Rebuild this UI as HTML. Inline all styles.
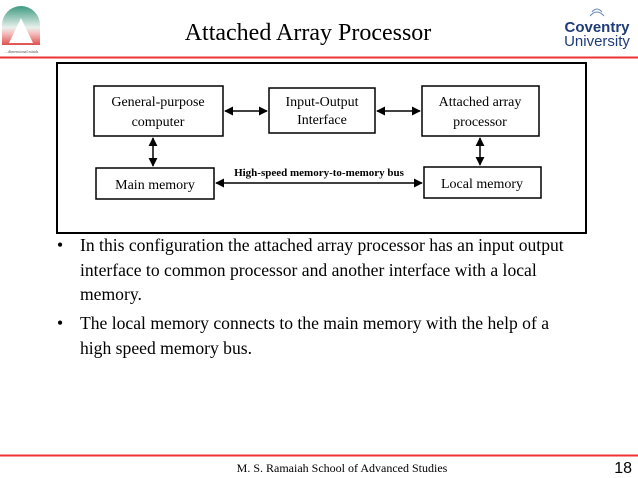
<!DOCTYPE html>
<html><head><style>
body{margin:0;width:638px;height:478px;background:#fff;position:relative;overflow:hidden;font-family:"Liberation Serif",serif;}
.a{position:absolute}
.t{position:absolute;font-size:17.6px;line-height:24.5px;color:#000}
</style></head><body>
<svg class="a" style="left:0;top:0" width="638" height="478">
<defs><linearGradient id="g" x1="0" y1="0" x2="0" y2="1"><stop offset="0" stop-color="#3d9a80"/><stop offset="0.55" stop-color="#e8f0ec"/><stop offset="0.7" stop-color="#f4c0c0"/><stop offset="1" stop-color="#e05050"/></linearGradient>
<marker id="m" viewBox="0 0 10 10" refX="9" refY="5" markerWidth="6" markerHeight="6" orient="auto-start-reverse"><path d="M0,0L10,5L0,10z" fill="#000"/></marker></defs>
<path d="M2,45 L2,25 A19,19 0 0 1 40,25 L40,45 Z" fill="url(#g)"/>
<path d="M21,18 L9,43 L33,43 Z" fill="#fff"/>
<text x="5" y="53" font-size="4" fill="#555">...dimensional minds</text>
<line x1="0" y1="57.5" x2="638" y2="57.5" stroke="#e33" stroke-width="2"/>
<line x1="0" y1="455.5" x2="638" y2="455.5" stroke="#e33" stroke-width="2"/>
<rect x="57" y="63" width="529" height="170" fill="none" stroke="#000" stroke-width="2"/>
<g fill="none" stroke="#000" stroke-width="1.5">
<rect x="94" y="86" width="129" height="50"/>
<rect x="269" y="88" width="106" height="45"/>
<rect x="422" y="86" width="117" height="50"/>
<rect x="96" y="168" width="118" height="31"/>
<rect x="424" y="167" width="117" height="31"/>
<line x1="225" y1="111" x2="267" y2="111" marker-start="url(#m)" marker-end="url(#m)"/>
<line x1="377" y1="111" x2="420" y2="111" marker-start="url(#m)" marker-end="url(#m)"/>
<line x1="153" y1="138" x2="153" y2="166" marker-start="url(#m)" marker-end="url(#m)"/>
<line x1="480" y1="138" x2="480" y2="165" marker-start="url(#m)" marker-end="url(#m)"/>
<line x1="216" y1="183" x2="422" y2="183" marker-start="url(#m)" marker-end="url(#m)"/>
</g>
<g font-family="Liberation Serif,serif" font-size="14" text-anchor="middle">
<text x="158" y="106">General-purpose</text><text x="158" y="126">computer</text>
<text x="322" y="106">Input-Output</text><text x="322" y="124">Interface</text>
<text x="480" y="106">Attached array</text><text x="480" y="126">processor</text>
<text x="155" y="189">Main memory</text>
<text x="482" y="188">Local memory</text>
<text x="319" y="176" font-size="11" font-weight="bold">High-speed memory-to-memory bus</text>
</g>
<text x="308" y="40" font-family="Liberation Serif,serif" font-size="24" text-anchor="middle">Attached Array Processor</text>
<text x="597" y="32" font-family="Liberation Sans,sans-serif" font-size="15" font-weight="bold" fill="#1e3c78" text-anchor="middle">Coventry</text>
<text x="597" y="46" font-family="Liberation Sans,sans-serif" font-size="15" fill="#1e3c78" text-anchor="middle">University</text>
<path d="M590,16 q7,-8 14,0 M592,12 q5,-6 10,0" stroke="#6a8ab8" fill="none"/>
<text x="342" y="472" font-family="Liberation Serif,serif" font-size="12" text-anchor="middle">M. S. Ramaiah School of Advanced Studies</text>
<text x="632" y="473" font-family="Liberation Sans,sans-serif" font-size="16" text-anchor="end">18</text>
</svg>
<div class="t" style="left:57px;top:233px">•</div>
<div class="t" style="left:80px;top:233px;width:492px">In this configuration the attached array processor has an input output interface to common processor and another interface with a local memory.</div>
<div class="t" style="left:57px;top:311px">•</div>
<div class="t" style="left:80px;top:311px;width:492px">The local memory connects to the main memory with the help of a high speed memory bus.</div>
</body></html>
